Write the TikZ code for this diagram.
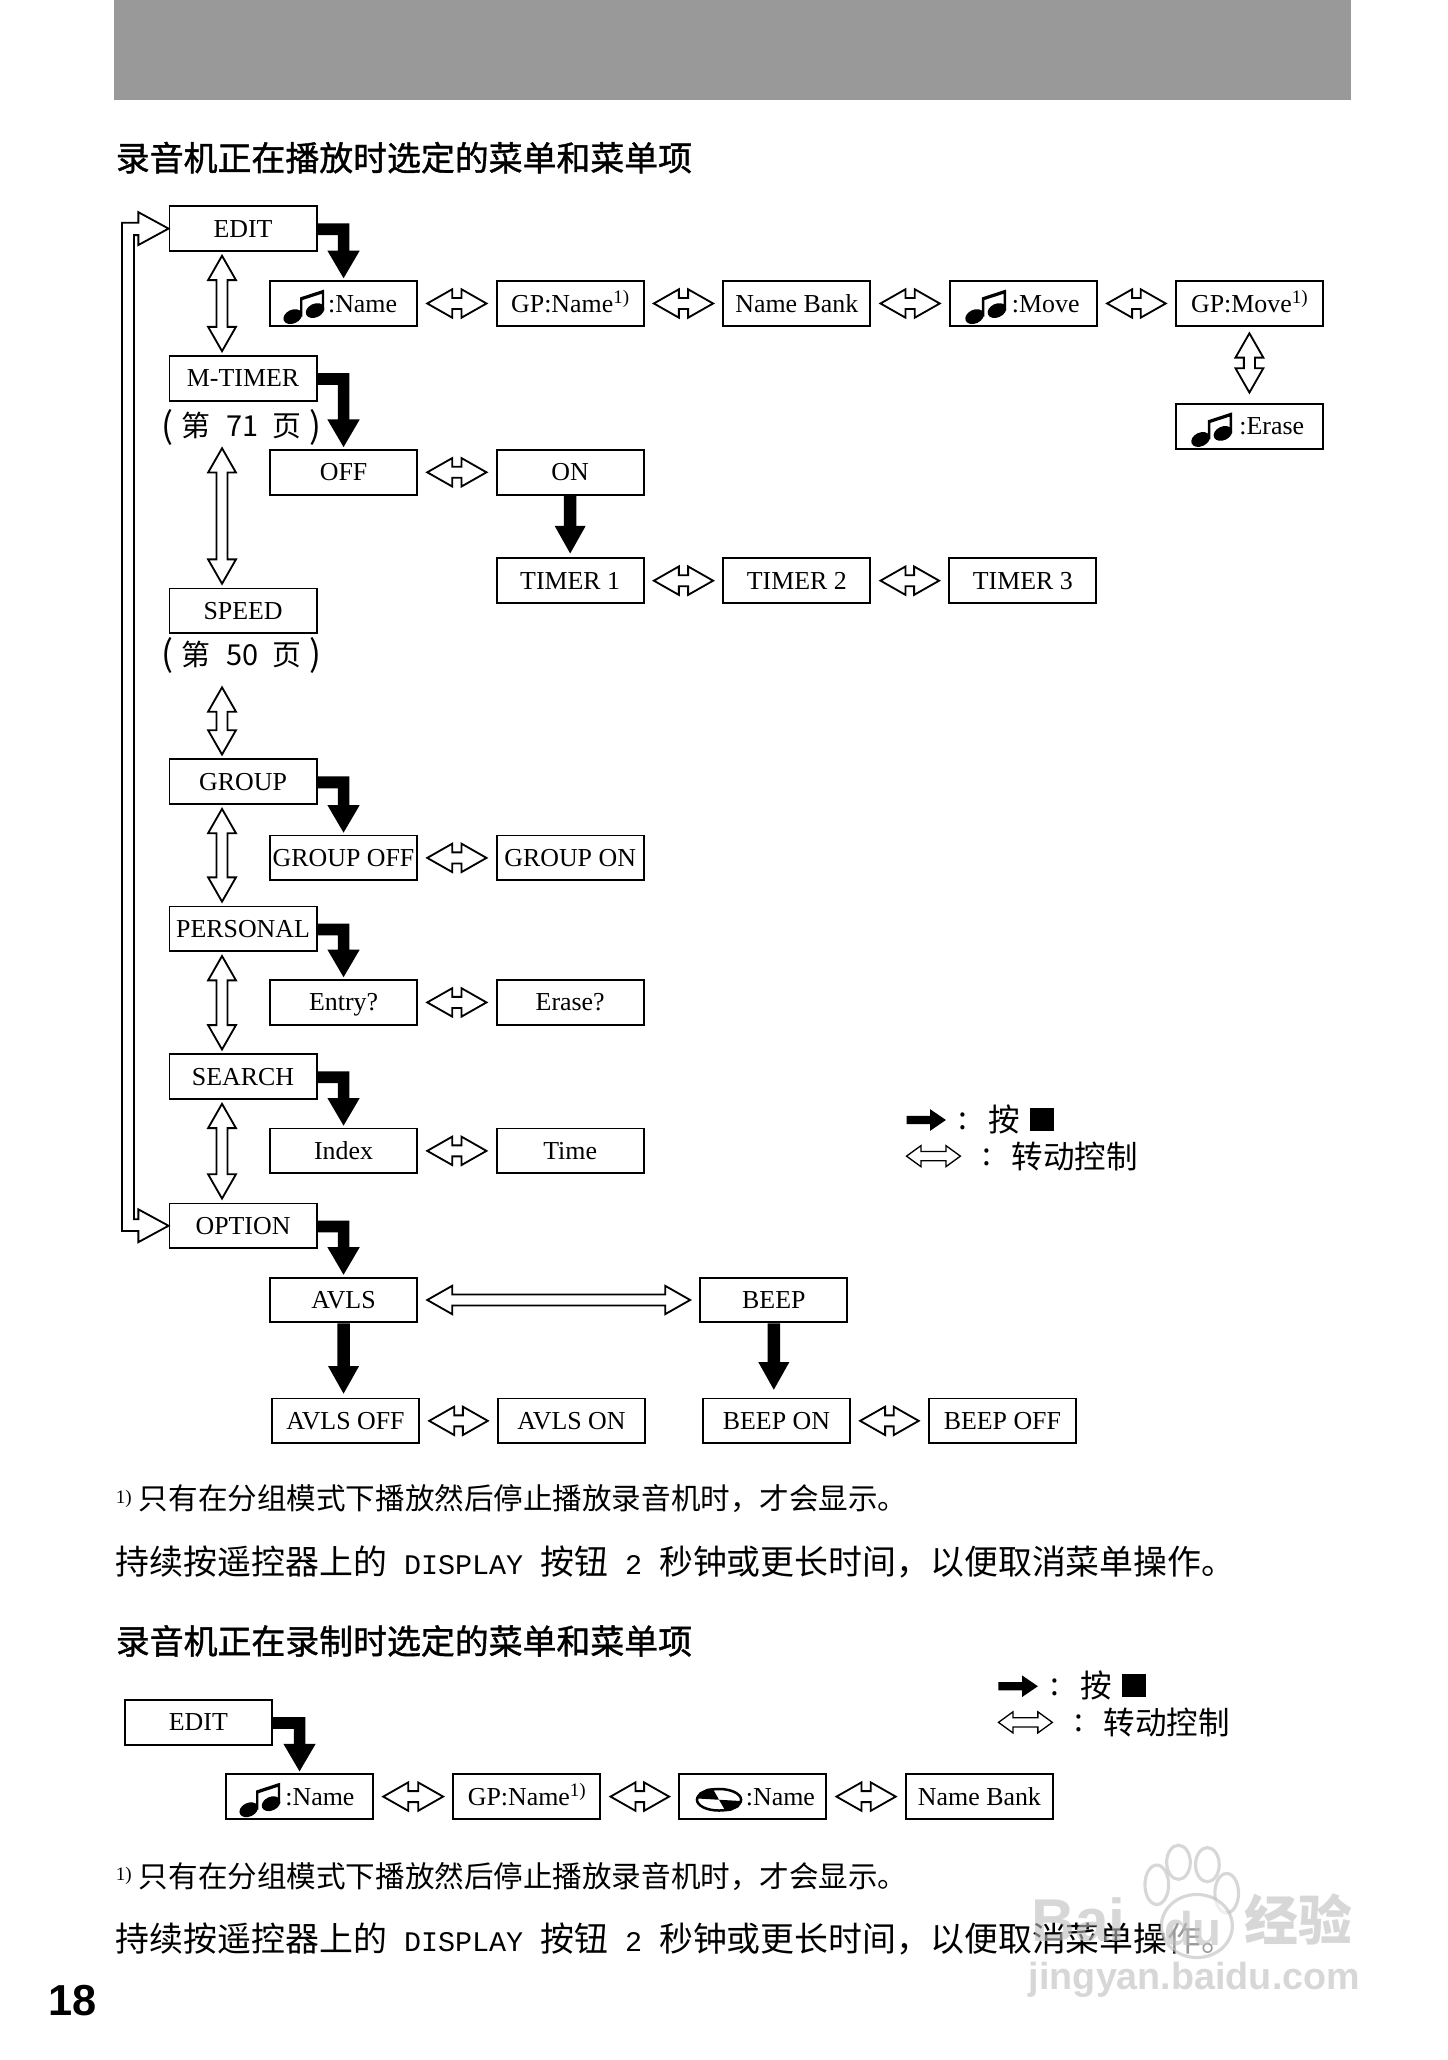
\documentclass[tikz,border=0pt]{standalone}
\usepackage{fontspec}
\usetikzlibrary{calc}
\setmainfont{Liberation Serif}
\newfontfamily\cjk{Noto Sans CJK SC}
\newfontfamily\cjkh[FakeBold=1.2]{Noto Sans CJK SC}
\newfontfamily\monof{Liberation Mono}
\newfontfamily\sansf{Liberation Sans}
\newcommand{\fsz}[1]{\fontsize{#1}{#1}\selectfont}
\newcommand{\supone}{\raisebox{6.5pt}{\fsz{14.5}1)}}
\newcommand{\parl}{\raisebox{-1pt}{\fsz{27}(}}
\newcommand{\parr}{\raisebox{-1pt}{\fsz{27})}}
\colorlet{wm}{black!26}
\tikzset{
 x=1pt,y=-1pt,
 box/.style={draw,line width=1.4pt,fill=white,minimum width=112pt,minimum height=34pt,inner sep=0pt,text height=13pt,text depth=0pt,font=\fsz{19.7}},
 hol/.style={draw,line width=1.4pt,fill=white,line join=miter},
 blk/.style={fill=black,draw=none},
 hdbl/.style={to path={($(\tikztostart)+(7,0)$) -- ($(\tikztostart)+(26,-10.8)$) -- ($(\tikztostart)+(26,-4.2)$) -- ($(\tikztotarget)+(-26,-4.2)$) -- ($(\tikztotarget)+(-26,-10.8)$) -- ($(\tikztotarget)+(-7,0)$) -- ($(\tikztotarget)+(-26,10.8)$) -- ($(\tikztotarget)+(-26,4.2)$) -- ($(\tikztostart)+(26,4.2)$) -- ($(\tikztostart)+(26,10.8)$) -- cycle}},
 vdbl/.style={to path={(\tikztostart) -- ($(\tikztostart)+(10.6,18.5)$) -- ($(\tikztostart)+(4.2,18.5)$) -- ($(\tikztotarget)+(4.2,-18.5)$) -- ($(\tikztotarget)+(10.6,-18.5)$) -- (\tikztotarget) -- ($(\tikztotarget)+(-10.6,-18.5)$) -- ($(\tikztotarget)+(-4.2,-18.5)$) -- ($(\tikztostart)+(-4.2,18.5)$) -- ($(\tikztostart)+(-10.6,18.5)$) -- cycle}},
 lgdh/.style={to path={(\tikztostart) -- ($(\tikztostart)+(11,-8)$) -- ($(\tikztostart)+(11,-3.5)$) -- ($(\tikztotarget)+(-11,-3.5)$) -- ($(\tikztotarget)+(-11,-8)$) -- (\tikztotarget) -- ($(\tikztotarget)+(-11,8)$) -- ($(\tikztotarget)+(-11,3.5)$) -- ($(\tikztostart)+(11,3.5)$) -- ($(\tikztostart)+(11,8)$) -- cycle}},
 lgdb/.style={to path={($(\tikztostart)+(0,-3.2)$) -- ($(\tikztotarget)+(-12,-3.2)$) -- ($(\tikztotarget)+(-12,-8.2)$) -- (\tikztotarget) -- ($(\tikztotarget)+(-12,8.2)$) -- ($(\tikztotarget)+(-12,3.2)$) -- ($(\tikztostart)+(0,3.2)$) -- cycle}},
 elbow/.style={to path={let \p1=(\tikztostart),\p2=(\tikztotarget) in (\x1,\y1+4pt) -- (\x2+4.4pt,\y1+4pt) -- (\x2+4.4pt,\y2+22.5pt) -- (\x2+12.3pt,\y2+22.5pt) -- (\x2,\y2+1.5pt) -- (\x2-12.3pt,\y2+22.5pt) -- (\x2-4.4pt,\y2+22.5pt) -- (\x2-4.4pt,\y1-5pt) -- (\x1,\y1-5pt) -- cycle}},
 vblk/.style={to path={($(\tikztostart)+(-4.8,0)$) -- ($(\tikztotarget)+(-4.8,-21)$) -- ($(\tikztotarget)+(-11.8,-21)$) -- (\tikztotarget) -- ($(\tikztotarget)+(11.8,-21)$) -- ($(\tikztotarget)+(4.8,-21)$) -- ($(\tikztostart)+(4.8,0)$) -- cycle}},
 notes/.pic={
  \fill[rotate around={25:(18,10)}] (18,10) ellipse [x radius=7.4,y radius=5.2];
  \fill[rotate around={25:(35,5.4)}] (35,5.4) ellipse [x radius=7.4,y radius=5.2];
  \fill (23.6,10) -- (23.6,-4.6) -- (42,-10.6) -- (42,5.4) -- (40.2,5.4) -- (40.2,-7.4) -- (25.4,-2.6) -- (25.4,10) -- cycle;
 },
 cdisc/.pic={
  \draw[line width=1.9pt,fill=white] (31,2.4) ellipse [x radius=16.8,y radius=8.2];
  \fill (31,2.4) -- (14,1.4) -- (16,-3) -- (22,-6) -- (26,-6.4) -- cycle;
  \fill (31,2.4) -- (48,3.4) -- (46,8) -- (40,10.8) -- (36,11.2) -- cycle;
 },
 hd/.style={anchor=west,inner sep=0pt,font=\cjkh\fsz{25.8}},
 bodyt/.style={anchor=west,inner sep=0pt,font=\cjk\fsz{25.8}},
 foot/.style={anchor=west,inner sep=0pt,font=\cjk\fsz{22.5}},
 pageref/.style={inner sep=0pt,minimum height=30pt,font=\cjk\fsz{22}},
 lgdt/.style={anchor=center,inner sep=0pt,font=\cjk\fsz{24}},
 wmt/.style={inner sep=0pt,text=wm,opacity=.6},
}
\begin{document}
\begin{tikzpicture}
\useasboundingbox (0,0) rectangle (1102,1568);
\fill[white] (0,0) rectangle (1102,1568);
\fill[black!40] (87,0) rectangle (1028,76);
\node[hd] (title1) at (88,120) {录音机正在播放时选定的菜单和菜单项};
% left column
\node[box] (edit) at (185,174) {EDIT};
\node[box] (mtimer) at (185,288) {M-TIMER};
\node[pageref] (p71) at (184,325) {\parl\hspace{6pt}第\hspace{12pt}71\hspace{11pt}页\hspace{6pt}\parr};
\node[box] (speed) at (185,465) {SPEED};
\node[pageref] (p50) at (184,499) {\parl\hspace{6pt}第\hspace{12pt}50\hspace{11pt}页\hspace{6pt}\parr};
\node[box] (group) at (185,595) {GROUP};
\node[box] (personal) at (185,707) {PERSONAL};
\node[box] (search) at (185,819.5) {SEARCH};
\node[box] (option) at (185,933) {OPTION};
% row 1
\node[box] (aname) at (261.5,231) {\hspace{29pt}:Name};
\pic at ($(aname.west)$) {notes};
\node[box] (gpname) at (434,231) {GP:Name\supone};
\node[box] (bank) at (606.5,231) {Name Bank};
\node[box] (amove) at (779,231) {\hspace{34pt}:Move};
\pic at ([xshift=1.5pt]amove.west) {notes};
\node[box] (gpmove) at (951,231) {GP:Move\supone};
\node[box] (aerase) at (951,324.5) {\hspace{34pt}:Erase};
\pic at ([xshift=1.5pt]aerase.west) {notes};
% timer
\node[box] (off) at (261.5,359.5) {OFF};
\node[box] (on) at (434,359.5) {ON};
\node[box] (t1) at (434,442) {TIMER 1};
\node[box] (t2) at (606.5,442) {TIMER 2};
\node[box] (t3) at (778.5,442) {TIMER 3};
% group
\node[box] (goff) at (261.5,653) {GROUP OFF};
\node[box] (gon) at (434,653) {GROUP ON};
\node[box] (entry) at (261.5,763) {Entry?};
\node[box] (erq) at (434,763) {Erase?};
\node[box] (index) at (261.5,876) {Index};
\node[box] (timeb) at (434,876) {Time};
\node[box] (avls) at (261.5,989.5) {AVLS};
\node[box] (beep) at (589,989.5) {BEEP};
\node[box] (avoff) at (263,1081.5) {AVLS OFF};
\node[box] (avon) at (435,1081.5) {AVLS ON};
\node[box] (bon) at (591,1081.5) {BEEP ON};
\node[box] (boff) at (763,1081.5) {BEEP OFF};
% hollow horizontal
\path[hol] (aname.east) to[hdbl] (gpname.west);
\path[hol] (gpname.east) to[hdbl] (bank.west);
\path[hol] (bank.east) to[hdbl] (amove.west);
\path[hol] (amove.east) to[hdbl] (gpmove.west);
\path[hol] (off.east) to[hdbl] (on.west);
\path[hol] (t1.east) to[hdbl] (t2.west);
\path[hol] (t2.east) to[hdbl] (t3.west);
\path[hol] (goff.east) to[hdbl] (gon.west);
\path[hol] (entry.east) to[hdbl] (erq.west);
\path[hol] (index.east) to[hdbl] (timeb.west);
\path[hol] (avls.east) to[hdbl] (beep.west);
\path[hol] (avoff.east) to[hdbl] (avon.west);
\path[hol] (bon.east) to[hdbl] (boff.west);
% hollow vertical
\path[hol] ([xshift=-16pt,yshift=-3pt]edit.south) to[vdbl] ([xshift=-16pt,yshift=3pt]mtimer.north);
\path[hol] ([xshift=-15pt,yshift=-1pt]p71.south) to[vdbl] ([xshift=-16pt,yshift=3pt]speed.north);
\path[hol] ([xshift=-15pt,yshift=-9pt]p50.south) to[vdbl] ([xshift=-16pt,yshift=3pt]group.north);
\path[hol] ([xshift=-16pt,yshift=-3pt]group.south) to[vdbl] ([xshift=-16pt,yshift=3pt]personal.north);
\path[hol] ([xshift=-16pt,yshift=-3pt]personal.south) to[vdbl] ([xshift=-16pt,yshift=3pt]search.north);
\path[hol] ([xshift=-16pt,yshift=-3pt]search.south) to[vdbl] ([xshift=-16pt,yshift=3pt]option.north);
\path[hol] ([yshift=-5pt]gpmove.south) to[vdbl] ([yshift=8pt]aerase.north);
% long return arrow
\path[hol] (edit.west) -- ($(edit.west)+(-23,-12.5)$) -- ($(edit.west)+(-23,-4.5)$) -- ($(edit.west)+(-35.5,-4.5)$) -- ($(option.west)+(-35.5,4)$) -- ($(option.west)+(-23,4)$) -- ($(option.west)+(-23,12.5)$) -- (option.west) -- ($(option.west)+(-23,-12.5)$) -- ($(option.west)+(-23,-5)$) -- ($(option.west)+(-26.3,-5)$) -- ($(edit.west)+(-26.3,5)$) -- ($(edit.west)+(-23,5)$) -- ($(edit.west)+(-23,12.5)$) -- cycle;
% black elbows
\path[blk] (edit.east) to[elbow] (aname.north);
\path[blk] (mtimer.east) to[elbow] (off.north);
\path[blk] (group.east) to[elbow] (goff.north);
\path[blk] (personal.east) to[elbow] (entry.north);
\path[blk] (search.east) to[elbow] (index.north);
\path[blk] (option.east) to[elbow] (avls.north);
% black straight
\path[blk] (on.south) to[vblk] ([yshift=3pt]t1.north);
\path[blk] (avls.south) to[vblk] ([yshift=3pt]avls.south |- avoff.north);
\path[blk] (beep.south) to[vblk] ([yshift=6pt]beep.south |- bon.north);
% legend 1
\coordinate (la) at (690,852.5);
\coordinate (lb) at (720,852.5);
\coordinate (lc) at (690,880);
\coordinate (ld) at (731,880);
\path[blk] (la) to[lgdb] (lb);
\path[hol,line width=1pt] (lc) to[lgdh] (ld);
\node[lgdt] (lcolon1) at (733,853.5) {:};
\node[lgdt] (lpress1) at (764.5,852) {按};
\fill (784,843.5) rectangle (802,861);
\node[lgdt] (lcolon2) at (751,881) {:};
\node[lgdt,anchor=west] (lturn1) at (770,880) {转动控制};
% footnotes etc
\node[foot] (fn1) at (88,1141) {\raisebox{5pt}{\rmfamily\fsz{14.5}1)}\hspace{5.5pt}只有在分组模式下播放然后停止播放录音机时，才会显示。};
\node[bodyt] (b1) at (88,1189) {持续按遥控器上的{\monof\fsz{21.6}\ DISPLAY\ }按钮{\monof\fsz{21.6}\ 2\ }秒钟或更长时间，以便取消菜单操作。};
\node[hd] (title2) at (88,1249) {录音机正在录制时选定的菜单和菜单项};
% legend 2
\coordinate (lla) at (760,1283.5);
\coordinate (llb) at (790,1283.5);
\coordinate (llc) at (760,1311);
\coordinate (lld) at (801,1311);
\path[blk] (lla) to[lgdb] (llb);
\path[hol,line width=1pt] (llc) to[lgdh] (lld);
\node[lgdt] (lcolon3) at (803,1284.5) {:};
\node[lgdt] (lpress2) at (834.5,1283) {按};
\fill (854,1274.5) rectangle (872,1292);
\node[lgdt] (lcolon4) at (821,1312) {:};
\node[lgdt,anchor=west] (lturn2) at (840,1311) {转动控制};
% second diagram
\node[box] (edit2) at (151,1311) {EDIT};
\node[box] (rname) at (228,1367.5) {\hspace{31pt}:Name};
\pic at (rname.west) {notes};
\node[box] (rgp) at (401,1367.5) {GP:Name\supone};
\node[box] (rcd) at (573,1367.5) {\hspace{42pt}:Name};
\pic at (rcd.west) {cdisc};
\node[box] (rbank) at (745.5,1367.5) {Name Bank};
\path[hol] (rname.east) to[hdbl] (rgp.west);
\path[hol] (rgp.east) to[hdbl] (rcd.west);
\path[hol] (rcd.east) to[hdbl] (rbank.west);
\path[blk] (edit2.east) to[elbow] (rname.north);
\node[foot] (fn2) at (88,1428) {\raisebox{5pt}{\rmfamily\fsz{14.5}1)}\hspace{5.5pt}只有在分组模式下播放然后停止播放录音机时，才会显示。};
\node[bodyt] (b2) at (88,1476) {持续按遥控器上的{\monof\fsz{21.6}\ DISPLAY\ }按钮{\monof\fsz{21.6}\ 2\ }秒钟或更长时间，以便取消菜单操作。};
\node[anchor=west,inner sep=0pt,font=\sansf\bfseries\fsz{33}] (pageno) at (37,1523) {18};
% watermark
\begin{scope}[line width=2.4pt,draw=wm,fill=white,opacity=.6]
\filldraw (880.5,1434.6) ellipse [x radius=9,y radius=15];
\filldraw (897,1417.5) ellipse [x radius=9,y radius=13];
\filldraw (919,1419.3) ellipse [x radius=9,y radius=13];
\filldraw (933.7,1441) ellipse [x radius=9,y radius=15];
\filldraw (911,1466) ellipse [x radius=27,y radius=24];
\end{scope}
\node[wmt,anchor=west,font=\sansf\bfseries\fsz{46}] (wm1) at (785,1461) {Bai};
\node[wmt,font=\sansf\bfseries\fsz{36}] (wm2) at (908,1468) {du};
\node[wmt,anchor=west,font=\cjk\bfseries\fsz{41}] (wm3) at (947,1461) {经验};
\node[wmt,anchor=west,font=\sansf\bfseries\fsz{28.7}] (wm4) at (783,1507) {jingyan.baidu.com};
\end{tikzpicture}
\end{document}
